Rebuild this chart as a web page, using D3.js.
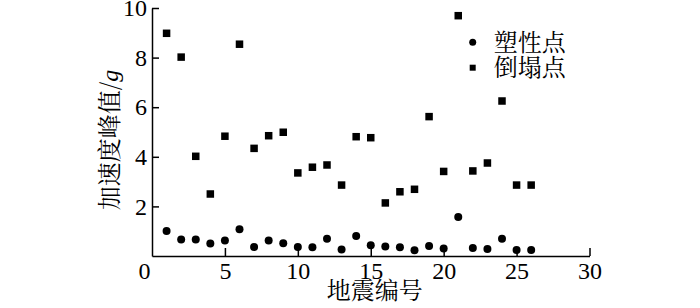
<!DOCTYPE html>
<html>
<head>
<meta charset="utf-8">
<script src="https://cdn.jsdelivr.net/npm/d3@7"></script>
<style>
  body { margin: 0; background: #fff; }
  .axis path, .axis line { stroke: #000; stroke-width: 1.5; }
  .cjk { font-family: "Noto Serif CJK SC", "Noto Sans CJK SC", serif; font-size: 24px; fill: #000; }
</style>
</head>
<body>
<div id="chart"></div>
<script>
// 地震编号
var quakeIds = [1, 2, 3, 4, 5, 6, 7, 8, 9, 10, 11, 12, 13, 14, 15, 16, 17, 18, 19, 20, 21, 22, 23, 24, 25, 26];
// 塑性点 peak acceleration (g)
var plasticPeak = [1.01, 0.67, 0.67, 0.50, 0.62, 1.08, 0.36, 0.63, 0.51, 0.36, 0.35, 0.70, 0.26, 0.81,
                   0.43, 0.38, 0.35, 0.23, 0.40, 0.30, 1.57, 0.32, 0.28, 0.70, 0.24, 0.24];
// 倒塌点 peak acceleration (g)
var collapsePeak = [8.98, 8.02, 4.02, 2.50, 4.83, 8.54, 4.34, 4.85, 4.99, 3.35, 3.58, 3.67, 2.86, 4.81,
                    4.77, 2.14, 2.59, 2.69, 5.62, 3.41, 9.69, 3.43, 3.75, 6.25, 2.86, 2.86];
var xTicks = [0, 5, 10, 15, 20, 25, 30];
var yTicks = [2, 4, 6, 8, 10];
var legendNames = ["塑性点", "倒塌点"];

var serif = "Liberation Serif";

function init(){
    var margin = {top: 8, right: 110.5, bottom: 52, left: 152};
    var w = 700 - margin.left - margin.right;
    var h = 308 - margin.top - margin.bottom;

    var plastic = quakeIds.map(function(d, i){ return {id: d, v: plasticPeak[i]}; });
    var collapse = quakeIds.map(function(d, i){ return {id: d, v: collapsePeak[i]}; });

    var xScale = d3.scaleLinear().domain([0, 30]).range([0, w]);
    var yScale = d3.scaleLinear().domain([0, 10]).range([h, 0]);

    var svg = d3.select("#chart")
                .append("svg")
                .attr("width", 700)
                .attr("height", 308)
                .append("g")
                .attr("transform", "translate(" + margin.left + "," + margin.top + ")");

    var xAxis = d3.axisBottom(xScale)
                  .tickValues(xTicks)
                  .tickSizeInner(-8)
                  .tickSizeOuter(0)
                  .tickPadding(6);
    var yAxis = d3.axisLeft(yScale)
                  .tickValues(yTicks)
                  .tickSizeInner(-7)
                  .tickSizeOuter(0)
                  .tickPadding(5);

    var gx = svg.append("g")
        .attr("class", "axis")
        .attr("transform", "translate(0," + h + ")")
        .call(xAxis)
        .attr("font-family", serif)
        .attr("font-size", 24);
    gx.selectAll(".tick").filter(function(d){ return d === 0; })
        .select("line").remove();
    gx.selectAll(".tick text").filter(function(d){ return d === 0; })
        .attr("dx", -8);

    svg.append("g")
        .attr("class", "axis")
        .call(yAxis)
        .attr("font-family", serif)
        .attr("font-size", 24);

    svg.selectAll(".axis text")
        .attr("font-family", serif)
        .attr("fill", "#000");

    // 塑性点
    svg.selectAll(".plastic")
        .data(plastic)
        .enter()
        .append("circle")
        .attr("class", "plastic")
        .attr("cx", function(d){ return xScale(d.id); })
        .attr("cy", function(d){ return yScale(d.v); })
        .attr("r", 4)
        .attr("fill", "#000");

    // 倒塌点
    var sq = 7.5;
    svg.selectAll(".collapse")
        .data(collapse)
        .enter()
        .append("rect")
        .attr("class", "collapse")
        .attr("x", function(d){ return xScale(d.id) - sq / 2; })
        .attr("y", function(d){ return yScale(d.v) - sq / 2; })
        .attr("width", sq)
        .attr("height", sq)
        .attr("fill", "#000");

    // axis titles
    svg.append("text")
        .attr("class", "cjk")
        .attr("x", w / 2 + 4)
        .attr("y", h + 43)
        .attr("text-anchor", "middle")
        .text("地震编号");

    var yt = svg.append("text")
        .attr("class", "cjk")
        .attr("transform", "translate(-34,132) rotate(-90)")
        .attr("text-anchor", "middle");
    yt.append("tspan").text("加速度峰值/");
    yt.append("tspan")
        .attr("font-family", serif)
        .attr("font-style", "italic")
        .text("g");

    // legend
    var legend = svg.append("g")
        .attr("transform", "translate(" + (472.7 - margin.left) + "," + (42.3 - margin.top) + ")");
    legend.append("circle")
        .attr("cx", 0).attr("cy", 0).attr("r", 3.5).attr("fill", "#000");
    legend.append("rect")
        .attr("x", -3).attr("y", 25.4 - 3).attr("width", 6).attr("height", 6).attr("fill", "#000");
    legend.selectAll(".lt")
        .data(legendNames)
        .enter()
        .append("text")
        .attr("class", "cjk lt")
        .attr("x", 21)
        .attr("y", function(d, i){ return i * 25.4; })
        .attr("dy", "0.35em")
        .text(function(d){ return d; });
}
window.onload = init;
</script>
</body>
</html>
